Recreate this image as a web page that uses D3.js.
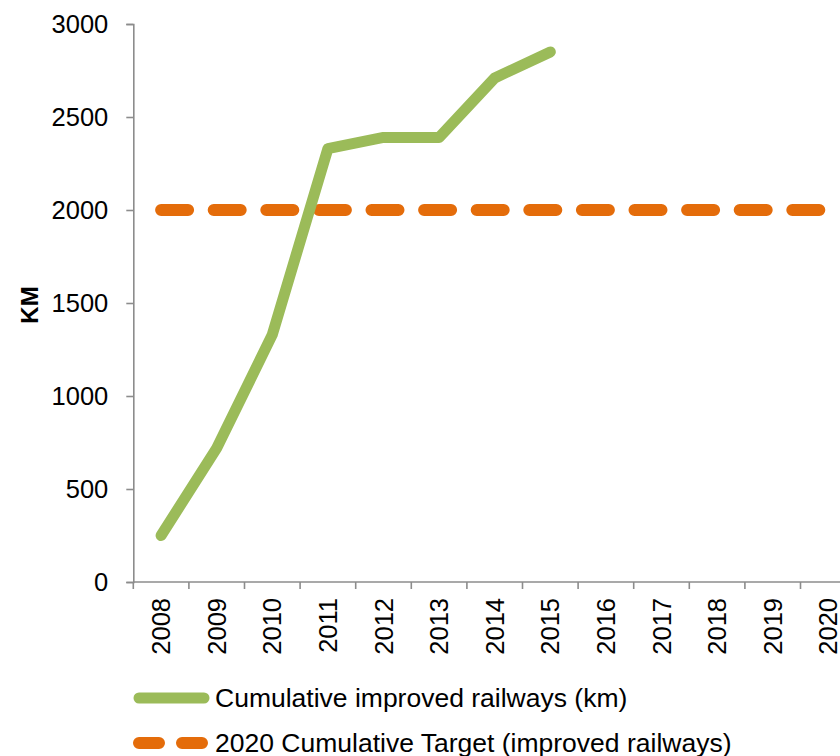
<!DOCTYPE html>
<html>
<head>
<meta charset="utf-8">
<script src="https://cdn.jsdelivr.net/npm/d3@7"></script>
<style>
  html, body { margin: 0; padding: 0; background: #ffffff; }
  svg { display: block; font-family: "Liberation Sans", Arial, sans-serif; }
</style>
</head>
<body>
<svg id="chart" width="840" height="756"></svg>
<script>
const years = ["2008","2009","2010","2011","2012","2013","2014","2015","2016","2017","2018","2019","2020"];
const improvedYears = ["2008","2009","2010","2011","2012","2013","2014","2015"];
const improvedKm = [250, 720, 1330, 2330, 2390, 2390, 2710, 2850];
const targetKm = [2000, 2000, 2000, 2000, 2000, 2000, 2000, 2000, 2000, 2000, 2000, 2000, 2000];
const yTicks = [0, 500, 1000, 1500, 2000, 2500, 3000];
const seriesNames = ["Cumulative improved railways (km)", "2020 Cumulative Target (improved railways)"];
const yTitle = "KM";

const green = "#9BBB59", orange = "#E46C0A", axisColor = "#8c8c8c";
const svg = d3.select("#chart");

const x = d3.scaleBand().domain(years).range([133.3, 133.3 + 13 * 55.6]).paddingInner(0).paddingOuter(0);
const y = d3.scaleLinear().domain([0, 3000]).range([582, 24]);
const cx = d => x(d) + x.bandwidth() / 2;

// Y axis
const yAxis = svg.append("g").attr("transform", "translate(133.3,0)")
  .call(d3.axisLeft(y).tickValues(yTicks).tickSize(7).tickPadding(18).tickFormat(d3.format("d")));
yAxis.select(".domain").attr("stroke", axisColor).attr("stroke-width", 1.6);
yAxis.selectAll(".tick line").attr("stroke", axisColor).attr("stroke-width", 1.6);
yAxis.selectAll(".tick text").attr("font-size", 25.5).attr("fill", "#000")
  .attr("font-family", "'Liberation Sans', Arial, sans-serif");

// X axis (ticks at category boundaries)
const xg = svg.append("g").attr("transform", "translate(0,582)");
xg.append("line").attr("x1", x.range()[0]).attr("x2", x.range()[1]).attr("y1", 0).attr("y2", 0)
  .attr("stroke", axisColor).attr("stroke-width", 1.6);
xg.selectAll("line.tk").data(years).join("line").attr("class", "tk")
  .attr("x1", d => x(d)).attr("x2", d => x(d)).attr("y1", 0).attr("y2", 7)
  .attr("stroke", axisColor).attr("stroke-width", 1.6);
xg.selectAll("text").data(years).join("text")
  .attr("transform", d => `translate(${cx(d) + 9},16) rotate(-90)`)
  .attr("text-anchor", "end").attr("font-size", 25.5).attr("fill", "#000")
  .text(d => d);

// Y title
svg.append("text").attr("transform", "translate(38,305) rotate(-90)")
  .attr("text-anchor", "middle").attr("font-size", 24).attr("font-weight", "bold").attr("fill", "#000")
  .text(yTitle);

// Target dashed line
const line = d3.line().x(d => cx(d.k)).y(d => y(d.v));
svg.append("path").datum(years.map((k, i) => ({k, v: targetKm[i]})))
  .attr("d", line).attr("fill", "none").attr("stroke", orange).attr("stroke-width", 12)
  .attr("stroke-linecap", "round").attr("stroke-dasharray", "27 25.6");

// Improved line
svg.append("path").datum(improvedYears.map((k, i) => ({k, v: improvedKm[i]})))
  .attr("d", line).attr("fill", "none").attr("stroke", green).attr("stroke-width", 11)
  .attr("stroke-linecap", "round").attr("stroke-linejoin", "round");

// Legend
const lg = svg.append("g");
lg.append("line").attr("x1", 139).attr("x2", 204).attr("y1", 698).attr("y2", 698)
  .attr("stroke", green).attr("stroke-width", 11).attr("stroke-linecap", "round");
lg.append("text").attr("x", 215).attr("y", 698).attr("dy", "0.35em").attr("font-size", 26.5).attr("fill", "#000")
  .text(seriesNames[0]);
lg.append("line").attr("x1", 139).attr("x2", 202).attr("y1", 743).attr("y2", 743)
  .attr("stroke", orange).attr("stroke-width", 12).attr("stroke-linecap", "round")
  .attr("stroke-dasharray", "20 23");
lg.append("text").attr("x", 215).attr("y", 743).attr("dy", "0.35em").attr("font-size", 26.5).attr("fill", "#000")
  .text(seriesNames[1]);
</script>
</body>
</html>
